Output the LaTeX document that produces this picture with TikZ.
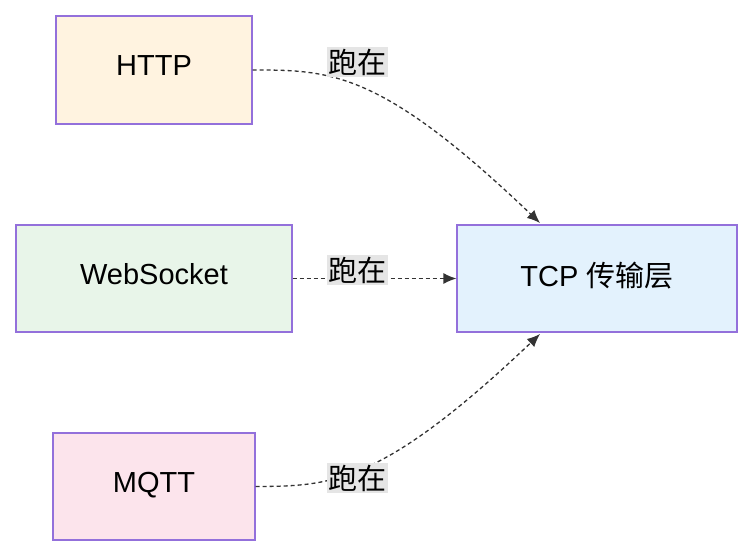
\documentclass[tikz,border=0pt]{standalone}
\usepackage{fontspec}
\setmainfont{Liberation Sans}
\newfontfamily\cjk{Noto Sans CJK SC}
\usetikzlibrary{arrows.meta}
\definecolor{bord}{HTML}{9370DB}
\definecolor{c1}{HTML}{FFF3E0}
\definecolor{c2}{HTML}{E8F5E9}
\definecolor{c3}{HTML}{FCE4EC}
\definecolor{c4}{HTML}{E3F2FD}
\newcommand{\boxtext}[1]{\raisebox{9pt}{#1}\hspace{24pt}}
\begin{document}
\begin{tikzpicture}[x=1pt,y=-1pt,
 box/.style={draw=bord,line width=1.2pt,inner sep=0pt,font=\fontsize{29}{34}\selectfont},
 lbl/.style={fill=black!10,inner sep=1.5pt,font=\cjk\fontsize{29}{34}\selectfont},
 edge/.style={draw=black!80,line width=1.3pt,dash pattern=on 4pt off 3pt,-{Latex[length=13pt,width=11pt]}}]
\useasboundingbox (0,0) rectangle (754,558);
\node[box,fill=c1,minimum width=196pt,minimum height=108pt] (h) at (154,70) {\boxtext{HTTP}};
\node[box,fill=c2,minimum width=276pt,minimum height=107pt] (w) at (154,278.5) {\boxtext{WebSocket}};
\node[box,fill=c3,minimum width=202pt,minimum height=107pt] (m) at (154,486.5) {\boxtext{MQTT}};
\node[box,fill=c4,minimum width=280pt,minimum height=107pt] (t) at (597,278.5) {\boxtext{TCP {\cjk 传输层}}};
\coordinate (t1) at (540,223);
\coordinate (t3) at (540,334);
\draw[edge] (h.east) .. controls (330,70) and (380,70) .. (t1);
\draw[edge] (w.east) -- (t.west);
\draw[edge] (m.east) .. controls (330,486) and (380,486) .. (t3);
\node[lbl] (l1) at (357,62) {跑在};
\node[lbl] (l2) at (357,270) {跑在};
\node[lbl] (l3) at (357,478) {跑在};
\end{tikzpicture}
\end{document}
